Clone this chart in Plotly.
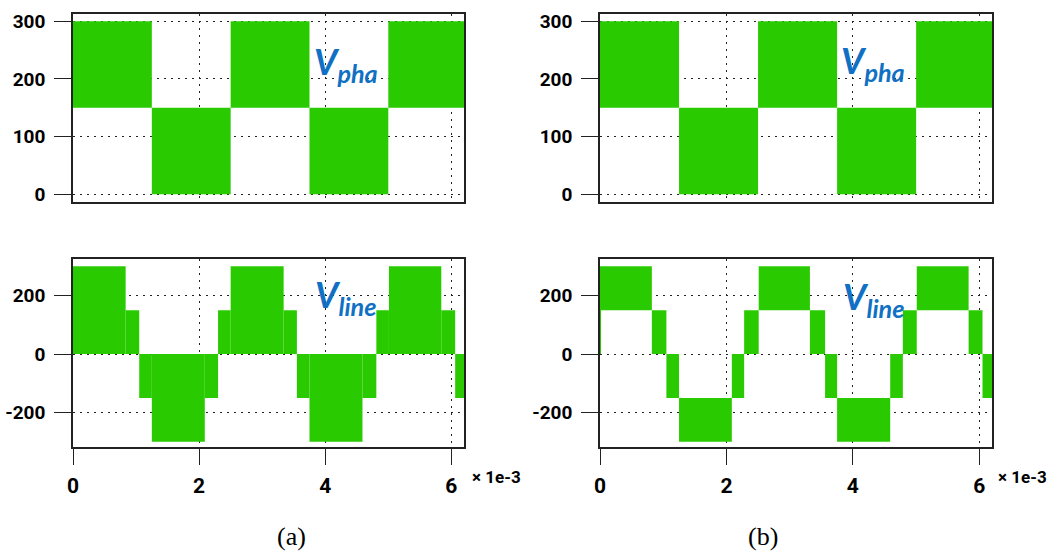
import plotly.graph_objects as go

# Switching-band envelopes of the inverter output (time in units of 1e-3 s).
# Each block: start time, end time, lower level, upper level of the PWM band.

# Phase voltage (identical for both modulation schemes)
pha_t_edges = [0.0, 1.25, 2.50, 3.75, 5.00, 6.20]
pha_low = [150, 0, 150, 0, 150]
pha_high = [300, 150, 300, 150, 300]

# Line voltage, scheme (a)
line_a_t_edges = [0.0, 0.835, 1.05, 1.25, 2.09, 2.30, 2.50, 3.34, 3.55,
                  3.75, 4.59, 4.81, 5.01, 5.84, 6.06, 6.20]
line_a_low = [0, 0, -150, -300, -150, 0, 0, 0, -150, -300, -150, 0, 0, 0, -150]
line_a_high = [300, 150, 0, 0, 0, 150, 300, 150, 0, 0, 0, 150, 300, 150, 0]

# Line voltage, scheme (b)
line_b_t_edges = [0.0, 0.012, 0.82, 1.05, 1.25, 2.085, 2.28, 2.51, 3.32, 3.56,
                  3.75, 4.59, 4.79, 5.01, 5.83, 6.05, 6.20]
line_b_low = [0, 150, 0, -150, -300, -150, 0, 150, 0, -150, -300, -150, 0, 150, 0, -150]
line_b_high = [300, 300, 150, 0, -150, 0, 150, 300, 150, 0, -150, 0, 150, 300, 150, 0]

pha_ticks = [0, 100, 200, 300]
line_ticks = [-200, 0, 200]
time_ticks = [0, 2, 4, 6]

GREEN = "#29cb00"
BLUE = "#0f70c4"
W, H = 1055, 554


def band_trace(edges, low, high, xa, ya):
    centers = [(a + b) / 2 for a, b in zip(edges[:-1], edges[1:])]
    widths = [b - a for a, b in zip(edges[:-1], edges[1:])]
    spans = [h - l for l, h in zip(low, high)]
    return go.Bar(x=centers, y=spans, base=low, width=widths,
                  marker=dict(color=GREEN, line=dict(width=0)),
                  xaxis=xa, yaxis=ya, showlegend=False, hoverinfo="skip")


fig = go.Figure()
fig.add_trace(band_trace(pha_t_edges, pha_low, pha_high, "x", "y"))
fig.add_trace(band_trace(line_a_t_edges, line_a_low, line_a_high, "x2", "y2"))
fig.add_trace(band_trace(pha_t_edges, pha_low, pha_high, "x3", "y3"))
fig.add_trace(band_trace(line_b_t_edges, line_b_low, line_b_high, "x4", "y4"))

num_font = "Roboto, Open Sans, sans-serif"
ytick_font = dict(family=num_font, size=19, color="black", weight="bold")
xtick_font = dict(family=num_font, size=21, color="black", weight="bold")


def px_x(p):
    return p / W


def px_y(p):
    return 1 - p / H


left_dom = [px_x(73), px_x(464)]
right_dom = [px_x(600), px_x(992)]
top_dom = [px_y(201.7), px_y(14.3)]
bot_dom = [px_y(446.7), px_y(259.3)]

common_x = dict(range=[0, 6.2], tickvals=time_ticks, ticktext=[str(v) for v in time_ticks],
                showline=True, mirror=True, automargin=False,
                linecolor="#222", linewidth=1.6, showgrid=True, gridcolor="#222",
                gridwidth=1.4, griddash="2px,5px", zeroline=False, tickfont=xtick_font,
                ticks="outside", ticklen=16, tickcolor="#222", tickwidth=1.4,
                ticklabelstandoff=3)
common_y = dict(showline=True, mirror=True, automargin=False, linecolor="#222", linewidth=1.6,
                showgrid=True, gridcolor="#222", gridwidth=1.4, griddash="2px,5px",
                zeroline=False, tickfont=ytick_font, ticks="outside", ticklen=17,
                tickcolor="#222", tickwidth=1.4, ticklabelstandoff=5)

layout = dict(
    width=W, height=H, margin=dict(l=0, r=0, t=0, b=0, autoexpand=False),
    paper_bgcolor="white", plot_bgcolor="white", barmode="overlay",
    xaxis=dict(common_x, domain=left_dom, anchor="y", ticks="", showticklabels=False),
    yaxis=dict(common_y, domain=top_dom, anchor="x", range=[-13, 312], tickvals=pha_ticks,
               ticktext=[str(v) for v in pha_ticks]),
    xaxis2=dict(common_x, domain=left_dom, anchor="y2"),
    yaxis2=dict(common_y, domain=bot_dom, anchor="x2", range=[-317, 324], tickvals=line_ticks,
                ticktext=[str(v) for v in line_ticks]),
    xaxis3=dict(common_x, domain=right_dom, anchor="y3", ticks="", showticklabels=False),
    yaxis3=dict(common_y, domain=top_dom, anchor="x3", range=[-13, 312], tickvals=pha_ticks,
                ticktext=[str(v) for v in pha_ticks]),
    xaxis4=dict(common_x, domain=right_dom, anchor="y4"),
    yaxis4=dict(common_y, domain=bot_dom, anchor="x4", range=[-317, 324], tickvals=line_ticks,
                ticktext=[str(v) for v in line_ticks]),
)
fig.update_layout(**layout)

label_font = dict(family="Lato, Open Sans, sans-serif", size=36, color=BLUE,
                  weight="bold", style="italic")
annotations = [
    dict(text="V<sub>pha</sub>", x=px_x(346), y=px_y(63)),
    dict(text="V<sub>pha</sub>", x=px_x(873), y=px_y(62)),
    dict(text="V<sub>line</sub>", x=px_x(345), y=px_y(296)),
    dict(text="V<sub>line</sub>", x=px_x(873), y=px_y(298)),
]
for a in annotations:
    fig.add_annotation(xref="paper", yref="paper", showarrow=False,
                       xanchor="center", yanchor="middle", font=label_font, **a)

for xpos in (470, 996):
    fig.add_annotation(text="× 1e-3", xref="paper", yref="paper", x=px_x(xpos),
                       y=px_y(477), xanchor="left", yanchor="middle", showarrow=False,
                       font=dict(xtick_font, size=17))

for text, xpos in (("(a)", 291), ("(b)", 763)):
    fig.add_annotation(text=text, xref="paper", yref="paper", x=px_x(xpos),
                       y=px_y(536), xanchor="center", yanchor="middle", showarrow=False,
                       font=dict(family="Liberation Serif, Times New Roman, serif",
                                 size=26, color="black"))

fig.write_html("out.html")
